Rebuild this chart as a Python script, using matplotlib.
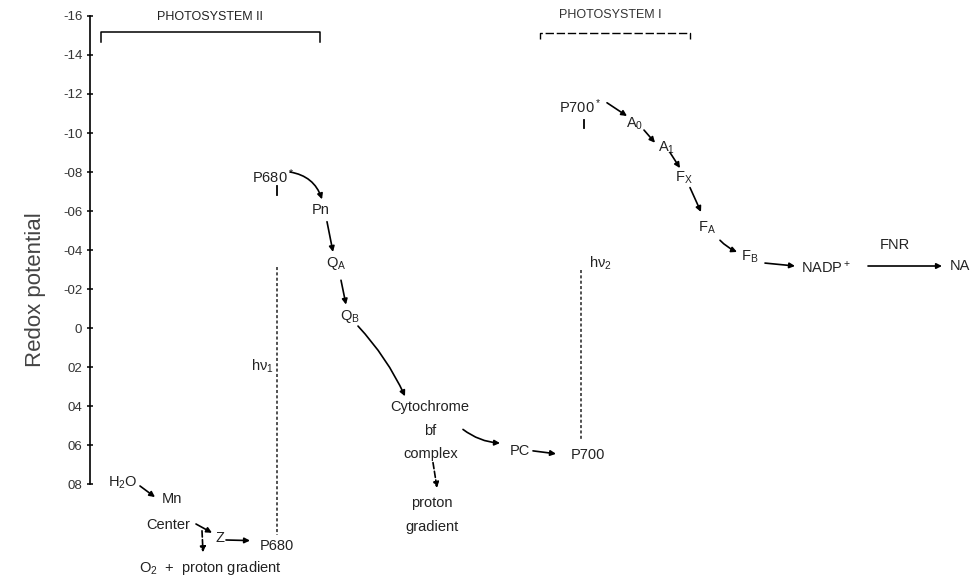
import matplotlib
matplotlib.use("Agg")
import matplotlib.pyplot as plt

plt.rcParams['font.family'] = ['Liberation Sans', 'DejaVu Sans']
plt.rcParams['mathtext.default'] = 'regular'

# redox potential axis (volts) and the printed tick labels
tick_values = [-1.6, -1.4, -1.2, -1.0, -0.8, -0.6, -0.4, -0.2, 0.0, 0.2, 0.4, 0.6, 0.8]
tick_labels = ["-16", "-14", "-12", "-10", "-08", "-06", "-04", "-02", "0", "02", "04", "06", "08"]

# carriers: label, horizontal step position, redox potential (V)
node_labels = ["P680$^*$", "Pn", "Q$_A$", "Q$_B$", "Cytochrome", "bf", "complex",
               "proton", "gradient", "PC", "P700", "P700$^*$", "A$_0$", "A$_1$",
               "F$_X$", "F$_A$", "F$_B$", "NADP$^+$", "FNR",
               "H$_2$O", "Mn", "Center", "Z", "P680", "O$_2$  +  proton gradient",
               "h$\\nu_1$", "h$\\nu_2$"]
node_x = [18.3, 23.1, 24.6, 26.0, 34.0, 34.0, 34.1,
          34.2, 34.2, 43.0, 49.8, 49.0, 54.5, 57.7,
          59.4, 61.7, 66.0, 73.6, 80.5,
          3.3, 8.2, 7.8, 13.0, 18.7, 12.0,
          17.2, 51.0]
node_E = [-0.775, -0.605, -0.33, -0.06, 0.405, 0.528, 0.646,
          0.897, 1.02, 0.63, 0.651, -1.133, -1.046, -0.923,
          -0.77, -0.513, -0.364, -0.308, -0.426,
          0.795, 0.877, 1.01, 1.077, 1.118, 1.23,
          0.195, -0.33]

# electron transfer steps: start (x, E), end (x, E), curvature, dashed
arrows = [
    ((20.0, -0.80), (23.2, -0.66), -0.3, False),
    ((23.7, -0.545), (24.3, -0.39), 0.0, False),
    ((25.1, -0.245), (25.6, -0.12), 0.0, False),
    ((26.8, -0.01), (31.5, 0.35), -0.08, False),
    ((37.3, 0.52), (41.0, 0.59), 0.15, False),
    ((44.3, 0.63), (46.6, 0.645), 0.0, False),
    ((34.3, 0.69), (34.7, 0.82), 0.0, True),
    ((51.7, -1.155), (53.7, -1.087), 0.0, False),
    ((55.4, -1.015), (56.5, -0.95), 0.0, False),
    ((58.0, -0.90), (59.0, -0.82), 0.0, False),
    ((60.0, -0.72), (61.1, -0.595), 0.0, False),
    ((63.0, -0.45), (64.7, -0.39), 0.1, False),
    ((67.5, -0.333), (70.5, -0.318), 0.0, False),
    ((77.8, -0.318), (85.2, -0.318), 0.0, False),
    ((5.0, 0.81), (6.5, 0.867), 0.0, False),
    ((10.6, 1.005), (12.2, 1.05), 0.0, False),
    ((13.6, 1.087), (16.0, 1.09), 0.0, False),
    ((11.2, 1.04), (11.3, 1.15), 0.0, True),
]

# light absorption (dotted) lines: x, E top, E bottom
light_x = [18.7, 49.1]
light_top = [-0.313, -0.297]
light_bottom = [1.06, 0.574]

fig = plt.figure(figsize=(9.77, 5.79), dpi=100)
ax = fig.add_axes([90 / 977, 0, 1 - 90 / 977, 1])
ax.set_xlim(0, 88.7)
ax.set_ylim(1.287, -1.682)

for s in ['top', 'right', 'bottom']:
    ax.spines[s].set_visible(False)
ax.spines['left'].set_bounds(-1.6, 0.8)
ax.spines['left'].set_linewidth(1.2)
ax.set_xticks([])
ax.set_yticks(tick_values)
ax.set_yticklabels(tick_labels, fontsize=9.5, color='#333333')
ax.tick_params(axis='y', direction='inout', length=5, width=1.1, pad=3)
ax.set_ylabel("Redox potential", fontsize=16, color='#444444', labelpad=12)

for lab, x, e in zip(node_labels, node_x, node_E):
    ax.text(x, e, lab, ha='center', va='center', fontsize=10.5, color='#222222')

# product at the right edge (cut by the page in the source)
ax.text(86.0, -0.318, "NA", ha='left', va='center', fontsize=10.5, color='#222222')

for (x0, e0), (x1, e1), rad, dashed in arrows:
    ax.annotate("", xy=(x1, e1), xytext=(x0, e0),
                arrowprops=dict(arrowstyle='-|>', mutation_scale=8, lw=1.2,
                                color='black', shrinkA=0, shrinkB=0,
                                linestyle='--' if dashed else '-',
                                connectionstyle=f"arc3,rad={rad}"))

for x, top, bot in zip(light_x, light_top, light_bottom):
    ax.plot([x, x], [top, bot], color='#222222', lw=1.1, linestyle=(0, (2, 1.5)))

# short marks below the excited states
ax.plot([18.7, 18.7], [-0.728, -0.682], color='black', lw=1.3)
ax.plot([49.4, 49.4], [-1.067, -1.026], color='black', lw=1.3)

# photosystem brackets
ax.text(12.0, -1.595, "PHOTOSYSTEM II", ha='center', va='center', fontsize=9, color='#222222')
ax.plot([1.1, 1.1, 23.0, 23.0], [-1.467, -1.518, -1.518, -1.467], color='black', lw=1.1)
ax.text(52.0, -1.605, "PHOTOSYSTEM I", ha='center', va='center', fontsize=9, color='#333333')
ax.plot([45.0, 45.0, 60.0, 60.0], [-1.48, -1.513, -1.513, -1.48], color='black', lw=1.0,
        linestyle=(0, (6, 2)))

fig.savefig("out.png", dpi=100)
